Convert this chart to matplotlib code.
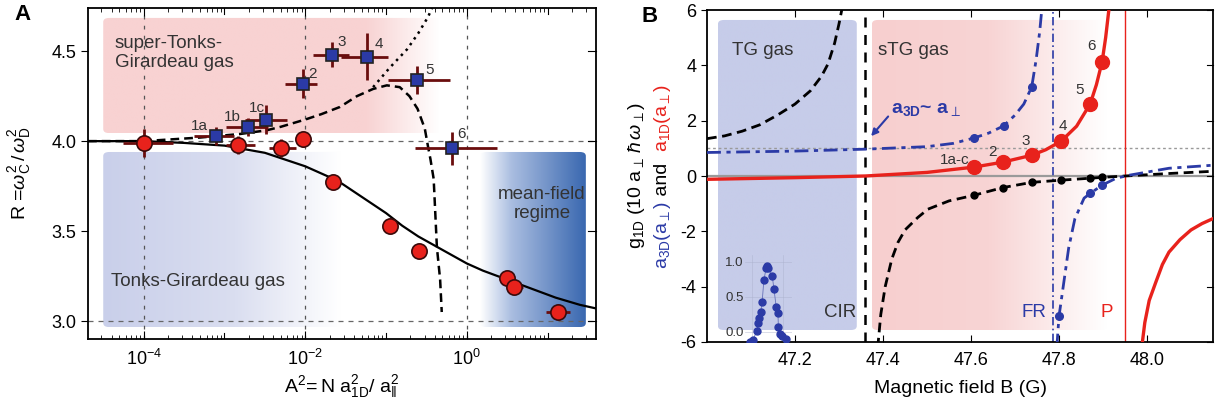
#!/usr/bin/env python3
"""
plot.py

Two-panel figure: (A) frequency ratio R vs interaction parameter A^2,
(B) 1D coupling / scattering lengths across the confinement-induced resonance.
"""

import numpy as np
import matplotlib
matplotlib.use("Agg")
import matplotlib.pyplot as plt
from matplotlib.colors import LinearSegmentedColormap
from matplotlib.patches import FancyBboxPatch

plt.rcParams["font.family"] = ["Liberation Sans", "DejaVu Sans"]
plt.rcParams["mathtext.fontset"] = "custom"
plt.rcParams["mathtext.rm"] = "Liberation Sans"
plt.rcParams["mathtext.it"] = "Liberation Sans:italic"
plt.rcParams["mathtext.bf"] = "Liberation Sans:bold"
plt.rcParams["axes.unicode_minus"] = False

OUTPUT_PNG = "out.png"

# --- Panel A data ------------------------------------------------------------

# red circles (measured R), A^2 values and error ranges
red_a2 = [1.0e-4, 1.45e-3, 5.0e-3, 9.3e-3, 2.2e-2, 1.12e-1, 2.57e-1, 3.16, 3.89, 13.5]
red_a2_lo = [5.5e-5, 1.05e-3, 3.55e-3, 7.6e-3, 1.9e-2, 1.0e-1, 2.24e-1, 2.63, 3.16, 9.5]
red_a2_hi = [2.3e-4, 2.4e-3, 7.6e-3, 1.15e-2, 2.6e-2, 1.26e-1, 3.0e-1, 3.8, 5.0, 19.0]
red_R = [3.99, 3.98, 3.96, 4.01, 3.77, 3.53, 3.39, 3.24, 3.19, 3.05]
red_R_err = [0.08, 0.05, 0.05, 0.04, 0.03, 0.03, 0.03, 0.03, 0.03, 0.03]

# blue squares (measured R in the super-Tonks-Girardeau branch)
sq_labels = ["1a", "1b", "1c", "2", "3", "4", "5", "6"]
sq_a2 = [7.9e-4, 1.95e-3, 3.3e-3, 9.3e-3, 2.14e-2, 5.75e-2, 2.4e-1, 6.5e-1]
sq_a2_lo = [4.2e-4, 1.05e-3, 1.8e-3, 5.6e-3, 1.23e-2, 2.8e-2, 1.07e-1, 2.3e-1]
sq_a2_hi = [1.3e-3, 3.5e-3, 6.0e-3, 1.4e-2, 3.5e-2, 1.05e-1, 6.2e-1, 2.4]
sq_R = [4.03, 4.08, 4.12, 4.32, 4.48, 4.47, 4.34, 3.96]
sq_R_err = [0.05, 0.05, 0.08, 0.08, 0.07, 0.13, 0.08, 0.09]

tg_log = [-4.69, -4.0, -3.5, -3.0, -2.5, -2.2, -2.0, -1.8, -1.6, -1.4, -1.2,
          -1.0, -0.8, -0.6, -0.4, -0.2, 0.0, 0.2, 0.5, 0.8, 1.1, 1.4, 1.6]
tg_R = [4.00, 4.00, 3.99, 3.975, 3.935, 3.89, 3.86, 3.82, 3.78, 3.72, 3.66,
        3.60, 3.53, 3.47, 3.42, 3.37, 3.32, 3.28, 3.23, 3.18, 3.13, 3.09, 3.07]

stg_log = [-4.69, -4.0, -3.3, -2.8, -2.48, -2.3, -2.0, -1.8, -1.57, -1.36, -1.16,
           -0.99, -0.83, -0.71, -0.61, -0.52, -0.48, -0.45, -0.41, -0.37, -0.33, -0.31]
stg_R = [4.00, 4.00, 4.02, 4.04, 4.06, 4.08, 4.12, 4.15, 4.19, 4.25, 4.29,
         4.31, 4.30, 4.25, 4.18, 4.07, 3.97, 3.90, 3.79, 3.41, 3.23, 3.05]

dot_log = [-1.16, -0.95, -0.74, -0.6, -0.48, -0.43]
dot_R = [4.30, 4.41, 4.51, 4.60, 4.69, 4.74]

# --- Panel B data ------------------------------------------------------------

g1d_left_B = [47.0, 47.04, 47.08, 47.12, 47.16, 47.20, 47.235, 47.26, 47.275, 47.29, 47.30, 47.31]
g1d_left = [1.35, 1.45, 1.62, 1.85, 2.2, 2.6, 3.08, 3.6, 4.05, 4.8, 5.5, 6.3]
g1d_right_B = [47.388, 47.395, 47.405, 47.42, 47.434, 47.45, 47.479, 47.502, 47.55, 47.606,
               47.672, 47.738, 47.805, 47.871, 47.898, 47.95, 48.05, 48.15]
g1d_right = [-6.2, -5.0, -4.0, -3.0, -2.4, -1.95, -1.5, -1.2, -0.9, -0.70,
             -0.42, -0.23, -0.15, -0.08, -0.05, 0.0, 0.09, 0.17]

a3d_left_B = [47.0, 47.2, 47.36, 47.5, 47.56, 47.606, 47.64, 47.674, 47.70, 47.72,
              47.738, 47.748, 47.756, 47.762]
a3d_left = [0.85, 0.90, 0.97, 1.06, 1.18, 1.37, 1.55, 1.81, 2.2, 2.6, 3.22, 4.2, 5.2, 6.2]
a3d_right_B = [47.795, 47.80, 47.806, 47.822, 47.836, 47.857, 47.871, 47.898, 47.93,
               47.96, 48.05, 48.15]
a3d_right = [-6.2, -5.07, -4.4, -2.6, -1.55, -0.8, -0.63, -0.33, -0.08, 0.03, 0.28, 0.39]

a1d_left_B = [47.0, 47.2, 47.36, 47.5, 47.606, 47.672, 47.738, 47.77, 47.805, 47.84,
              47.871, 47.885, 47.898, 47.906, 47.914]
a1d_left = [-0.12, -0.06, 0.0, 0.13, 0.32, 0.50, 0.75, 0.95, 1.26, 1.8,
            2.61, 3.3, 4.13, 5.0, 6.1]
a1d_right_B = [47.988, 47.995, 48.005, 48.02, 48.035, 48.05, 48.075, 48.10, 48.125, 48.15]
a1d_right = [-6.2, -5.3, -4.5, -3.84, -3.2, -2.75, -2.3, -1.95, -1.72, -1.54]

# measured points on the curves
pts_B = [47.606, 47.672, 47.738, 47.805, 47.871, 47.898]
pts_labels = ["1a-c", "2", "3", "4", "5", "6"]
pts_a1d = [0.32, 0.50, 0.75, 1.26, 2.61, 4.13]
pts_g1d = [-0.70, -0.42, -0.23, -0.15, -0.08, -0.05]
pts_a3d_B = [47.606, 47.674, 47.738, 47.80, 47.871, 47.898]
pts_a3d = [1.37, 1.81, 3.22, -5.07, -0.63, -0.33]

# inset: loss peak near the CIR
inset_B = [47.098, 47.105, 47.114, 47.117, 47.119, 47.123, 47.126, 47.130, 47.135,
           47.137, 47.139, 47.149, 47.153, 47.158, 47.162, 47.163, 47.167, 47.171, 47.181]
inset_y = [-0.14, -0.11, 0.01, 0.13, 0.20, 0.29, 0.43, 0.74, 0.91,
           0.94, 0.91, 0.80, 0.61, 0.36, 0.27, 0.07, -0.03, -0.06, -0.10]

CIR_B = 47.36
FR_B = 47.786
P_B = 47.951

RED = "#e8221c"
DARKRED = "#6a0d0d"
BLUE = "#2b3aa6"
PINK = "#f8d2d2"
LAVENDER = "#c6cce9"


# --- Helpers -----------------------------------------------------------------

def gradient_box(ax, x0, x1, y0, y1, stops, radius=0.012):
    """Horizontal colour gradient in axes coords, clipped to a rounded box."""
    cmap = LinearSegmentedColormap.from_list("g", stops)
    grad = np.linspace(0, 1, 256)[None, :]
    im = ax.imshow(grad, cmap=cmap, extent=[x0, x1, y0, y1], transform=ax.transAxes,
                   aspect="auto", interpolation="bilinear", zorder=0)
    clip = FancyBboxPatch((x0, y0), x1 - x0, y1 - y0,
                          boxstyle=f"round,pad=0,rounding_size={radius}",
                          transform=ax.transAxes, facecolor="none", edgecolor="none")
    im.set_clip_path(clip)
    return im


def stacked_vlabel(ax, x, pieces, fontsize, center=0.5):
    """Rotated, multi-coloured label: pieces stacked bottom to top, centred."""
    renderer = ax.figure.canvas.get_renderer()
    ax_h = ax.get_window_extent(renderer).height
    texts, heights = [], []
    for s, c in pieces:
        t = ax.text(x, 0, s, transform=ax.transAxes, rotation=90, color=c,
                    fontsize=fontsize, ha="center", va="bottom")
        texts.append(t)
        heights.append(t.get_window_extent(renderer).height)
    y = center - sum(heights) / 2 / ax_h
    for t, h in zip(texts, heights):
        t.set_y(y)
        y += h / ax_h


def plot_panel_a(ax):
    ax.set_xscale("log")
    ax.set_xlim(10 ** -4.69, 10 ** 1.6)
    ax.set_ylim(2.9, 4.74)

    gradient_box(ax, 0.030, 0.693, 0.622, 0.970,
                 [(0, PINK), (0.78, PINK), (1.0, "#ffffff")])
    gradient_box(ax, 0.030, 0.772, 0.036, 0.565,
                 [(0, "#c9cfea"), (0.35, "#dadef0"), (0.63, "#ffffff"), (1.0, "#ffffff")])
    gradient_box(ax, 0.772, 0.980, 0.036, 0.565,
                 [(0, "#ffffff"), (0.3, "#a9bde0"), (1.0, "#3a68b0")])

    for xv in [1e-4, 1e-2, 1e0]:
        ax.axvline(xv, color="#555555", lw=0.9, ls=(0, (3, 5)), zorder=1)
    for yv in [4.0, 3.0]:
        ax.axhline(yv, color="#666666", lw=0.9, ls=(0, (4, 4)), zorder=1)

    ax.plot(10 ** np.array(tg_log), tg_R, color="black", lw=1.6, zorder=3)
    ax.plot(10 ** np.array(stg_log), stg_R, color="black", lw=1.8,
            ls=(0, (3.5, 2)), zorder=3)
    ax.plot(10 ** np.array(dot_log), dot_R, color="black", lw=1.8,
            ls=(0, (1, 1.8)), zorder=3)

    x = np.array(red_a2)
    ax.errorbar(x, red_R, yerr=red_R_err,
                xerr=[x - np.array(red_a2_lo), np.array(red_a2_hi) - x],
                fmt="o", ms=11, mfc=RED, mec="#3a0a0a", mew=1.2,
                ecolor=DARKRED, elinewidth=2, capsize=0, zorder=5)
    x = np.array(sq_a2)
    ax.errorbar(x, sq_R, yerr=sq_R_err,
                xerr=[x - np.array(sq_a2_lo), np.array(sq_a2_hi) - x],
                fmt="s", ms=8, mfc=BLUE, mec="#222222", mew=1.2,
                ecolor=DARKRED, elinewidth=2, capsize=0, zorder=5)

    offsets = [(-12, 7), (-11, 7), (-7, 8), (7, 7), (7, 9), (9, 9), (9, 7), (7, 10)]
    for lab, xv, yv, off in zip(sq_labels, sq_a2, sq_R, offsets):
        ax.annotate(lab, (xv, yv), xytext=off, textcoords="offset points",
                    ha="center", va="center", fontsize=11, color="#333333", zorder=6)

    ax.text(10 ** -4.36, 4.49, "super-Tonks-\nGirardeau gas", fontsize=13.5,
            color="#333333", ha="left", va="center", linespacing=1.1)
    ax.text(10 ** -4.40, 3.22, "Tonks-Girardeau gas", fontsize=13.5,
            color="#333333", ha="left", va="center")
    ax.text(10 ** 0.93, 3.65, "mean-field\nregime", fontsize=13.5,
            color="#333333", ha="center", va="center", linespacing=1.15)

    ax.set_yticks([3.0, 3.5, 4.0, 4.5])
    ax.set_yticklabels(["3.0", "3.5", "4.0", "4.5"])
    ax.set_xticks([1e-4, 1e-2, 1e0])
    ax.set_xticklabels(["$10^{-4}$", "$10^{-2}$", "$10^{0}$"])
    ax.xaxis.set_minor_locator(matplotlib.ticker.LogLocator(base=10, subs=np.arange(2, 10), numticks=20))
    ax.xaxis.set_minor_formatter(matplotlib.ticker.NullFormatter())
    ax.tick_params(axis="x", which="both", direction="in", top=True, labelsize=13, pad=7)
    ax.tick_params(axis="x", which="major", length=6)
    ax.tick_params(axis="x", which="minor", length=3)
    ax.tick_params(axis="y", direction="out", labelsize=13, length=5)
    # unlabelled odd decades get major-length ticks too
    for xv in [1e-3, 1e-1, 1e1]:
        ax.axvline(xv, ymin=0, ymax=0.018, color="black", lw=0.8)
        ax.axvline(xv, ymin=0.982, ymax=1, color="black", lw=0.8)
    for yv in [3.0, 3.5, 4.0, 4.5]:
        ax.plot([1.0, 0.985], [yv, yv], color="black", lw=0.8,
                transform=ax.get_yaxis_transform(), clip_on=False)

    ax.set_xlabel(r"$\mathrm{A}^2\!= \mathrm{N\ a}^2_{\mathrm{1D}}/\ \mathrm{a}^2_{\|}$",
                  fontsize=14, labelpad=3)
    ax.set_ylabel(r"R =$\omega_\mathrm{C}^2\,/\,\omega_\mathrm{D}^2$", fontsize=14, labelpad=13)
    for sp in ax.spines.values():
        sp.set_linewidth(1.3)
    ax.text(-0.145, 0.98, "A", transform=ax.transAxes, fontsize=16,
            fontweight="bold", ha="left", va="center")


def plot_panel_b(ax):
    ax.set_xlim(47.0, 48.15)
    ax.set_ylim(-6, 6)

    gradient_box(ax, 0.0217, 0.296, 0.036, 0.970, [(0, LAVENDER), (1.0, LAVENDER)])
    gradient_box(ax, 0.326, 0.79, 0.036, 0.970,
                 [(0, "#f7cfcf"), (0.5, "#f8d4d4"), (1.0, "#ffffff")])

    ax.axhline(0, color="#9a9a9a", lw=1.6, zorder=1)
    ax.axhline(1.0, color="#9a9a9a", lw=1.0, ls=(0, (2, 2)), zorder=1)
    ax.axvline(CIR_B, color="black", lw=1.8, ls=(0, (4, 3)), zorder=2)
    ax.axvline(FR_B, color=BLUE, lw=1.2, ls=(0, (5, 2, 1, 2)), zorder=2)
    ax.axvline(P_B, color=RED, lw=1.0, zorder=2)

    dashdot = (0, (5, 2, 1.5, 2))
    ax.plot(g1d_left_B, g1d_left, color="black", lw=2, ls=(0, (3.5, 2)), zorder=3)
    ax.plot(g1d_right_B, g1d_right, color="black", lw=2, ls=(0, (3.5, 2)), zorder=3)
    ax.plot(a3d_left_B, a3d_left, color=BLUE, lw=2, ls=dashdot, zorder=3)
    ax.plot(a3d_right_B, a3d_right, color=BLUE, lw=2, ls=dashdot, zorder=3)
    ax.plot(a1d_left_B, a1d_left, color=RED, lw=2.4, zorder=4)
    ax.plot(a1d_right_B, a1d_right, color=RED, lw=2.4, zorder=4)

    ax.plot(pts_B, pts_g1d, "o", color="black", ms=5, zorder=5)
    ax.plot(pts_a3d_B, pts_a3d, "o", color=BLUE, ms=5.5, zorder=5)
    ax.plot(pts_B, pts_a1d, "o", color=RED, ms=10, zorder=6)

    offsets = [(-14, 5), (-7, 7), (-4, 10), (1, 11), (-8, 10), (-8, 11)]
    for lab, xv, yv, off in zip(pts_labels, pts_B, pts_a1d, offsets):
        ax.annotate(lab, (xv, yv), xytext=off, textcoords="offset points",
                    ha="center", va="center", fontsize=11, color="#333333", zorder=6)

    ax.text(47.126, 4.53, "TG gas", fontsize=13.5, color="#333333", ha="center", va="center")
    ax.text(47.389, 4.53, "sTG gas", fontsize=13.5, color="#333333", ha="left", va="center")
    ax.text(47.34, -4.92, "CIR", fontsize=13.5, color="#333333", ha="right", va="center")
    ax.text(47.772, -4.92, "FR", fontsize=13.5, color=BLUE, ha="right", va="center")
    ax.text(47.908, -4.92, "P", fontsize=13.5, color=RED, ha="center", va="center")

    ax.annotate(r"$\mathbf{a}_{\mathbf{3D}}$~ $\mathbf{a}_{\perp}$", xy=(47.373, 1.44),
                xytext=(47.418, 2.39), fontsize=14, color=BLUE, ha="left", va="center",
                fontweight="bold",
                arrowprops=dict(arrowstyle="-|>", color=BLUE, lw=1.5,
                                shrinkA=0, shrinkB=0, mutation_scale=10,
                                relpos=(0.0, 0.3)))

    ax.set_xticks([47.2, 47.4, 47.6, 47.8, 48.0])
    ax.set_yticks([-6, -4, -2, 0, 2, 4, 6])
    ax.tick_params(axis="x", direction="in", top=True, labelsize=13, length=5, pad=7)
    ax.tick_params(axis="y", direction="out", labelsize=13, length=4)
    for yv in [-6, -4, -2, 0, 2, 4, 6]:
        ax.plot([1.0, 0.988], [yv, yv], color="black", lw=0.8,
                transform=ax.get_yaxis_transform(), clip_on=False)
    ax.set_xlabel("Magnetic field B (G)", fontsize=14, labelpad=8)
    for sp in ax.spines.values():
        sp.set_linewidth(1.3)

    # two-column coloured y label
    ax.text(-0.140, 0.5, r"$\mathrm{g_{1D}}$ (10 $\mathrm{a_\perp}\,\hbar\,\omega_\perp$)",
            transform=ax.transAxes, rotation=90, fontsize=14, ha="center", va="center")
    stacked_vlabel(ax, -0.087,
                   [(r"$\mathrm{a_{3D}(a_\perp)}$", BLUE), (" and  ", "black"),
                    (r"$\mathrm{a_{1D}(a_\perp)}$", RED)],
                   fontsize=14, center=0.5)

    ax.text(-0.13, 0.98, "B", transform=ax.transAxes, fontsize=16, fontweight="bold",
            ha="left", va="center")


def plot_inset(fig):
    # inset shares the field scale of panel B
    ins = fig.add_axes([745 / 1219, (407 - 342) / 407, 47 / 1219, 87 / 407])
    ins.set_xlim(47.087, 47.194)
    ins.set_ylim(-0.143, 1.1)
    ins.patch.set_alpha(0)
    for sp in ins.spines.values():
        sp.set_visible(False)
    ins.set_yticks([0.0, 0.5, 1.0])
    ins.set_yticklabels(["0.0", "0.5", "1.0"])
    ins.set_xticks([47.103, 47.174])
    ins.tick_params(axis="y", length=0, labelsize=9.5, pad=1, labelcolor="#333333")
    ins.tick_params(axis="x", length=0, labelbottom=False)
    ins.grid(True, color="#aab0cc", lw=0.5, alpha=0.6)
    ins.plot(inset_B, inset_y, "o", color="#2b3aa6", ms=5, zorder=3)
    ins.plot(inset_B, inset_y, color="#6670b8", lw=0.6, zorder=2)
    return ins


# --- Main --------------------------------------------------------------------

def main():
    fig = plt.figure(figsize=(12.19, 4.07), dpi=100)
    ax_a = fig.add_axes([88 / 1219, (407 - 339) / 407, 508 / 1219, 331 / 407])
    ax_b = fig.add_axes([707 / 1219, (407 - 342) / 407, 506 / 1219, 332 / 407])

    plot_panel_a(ax_a)
    plot_panel_b(ax_b)
    plot_inset(fig)

    fig.savefig(OUTPUT_PNG, dpi=100)
    plt.close(fig)


if __name__ == "__main__":
    main()
